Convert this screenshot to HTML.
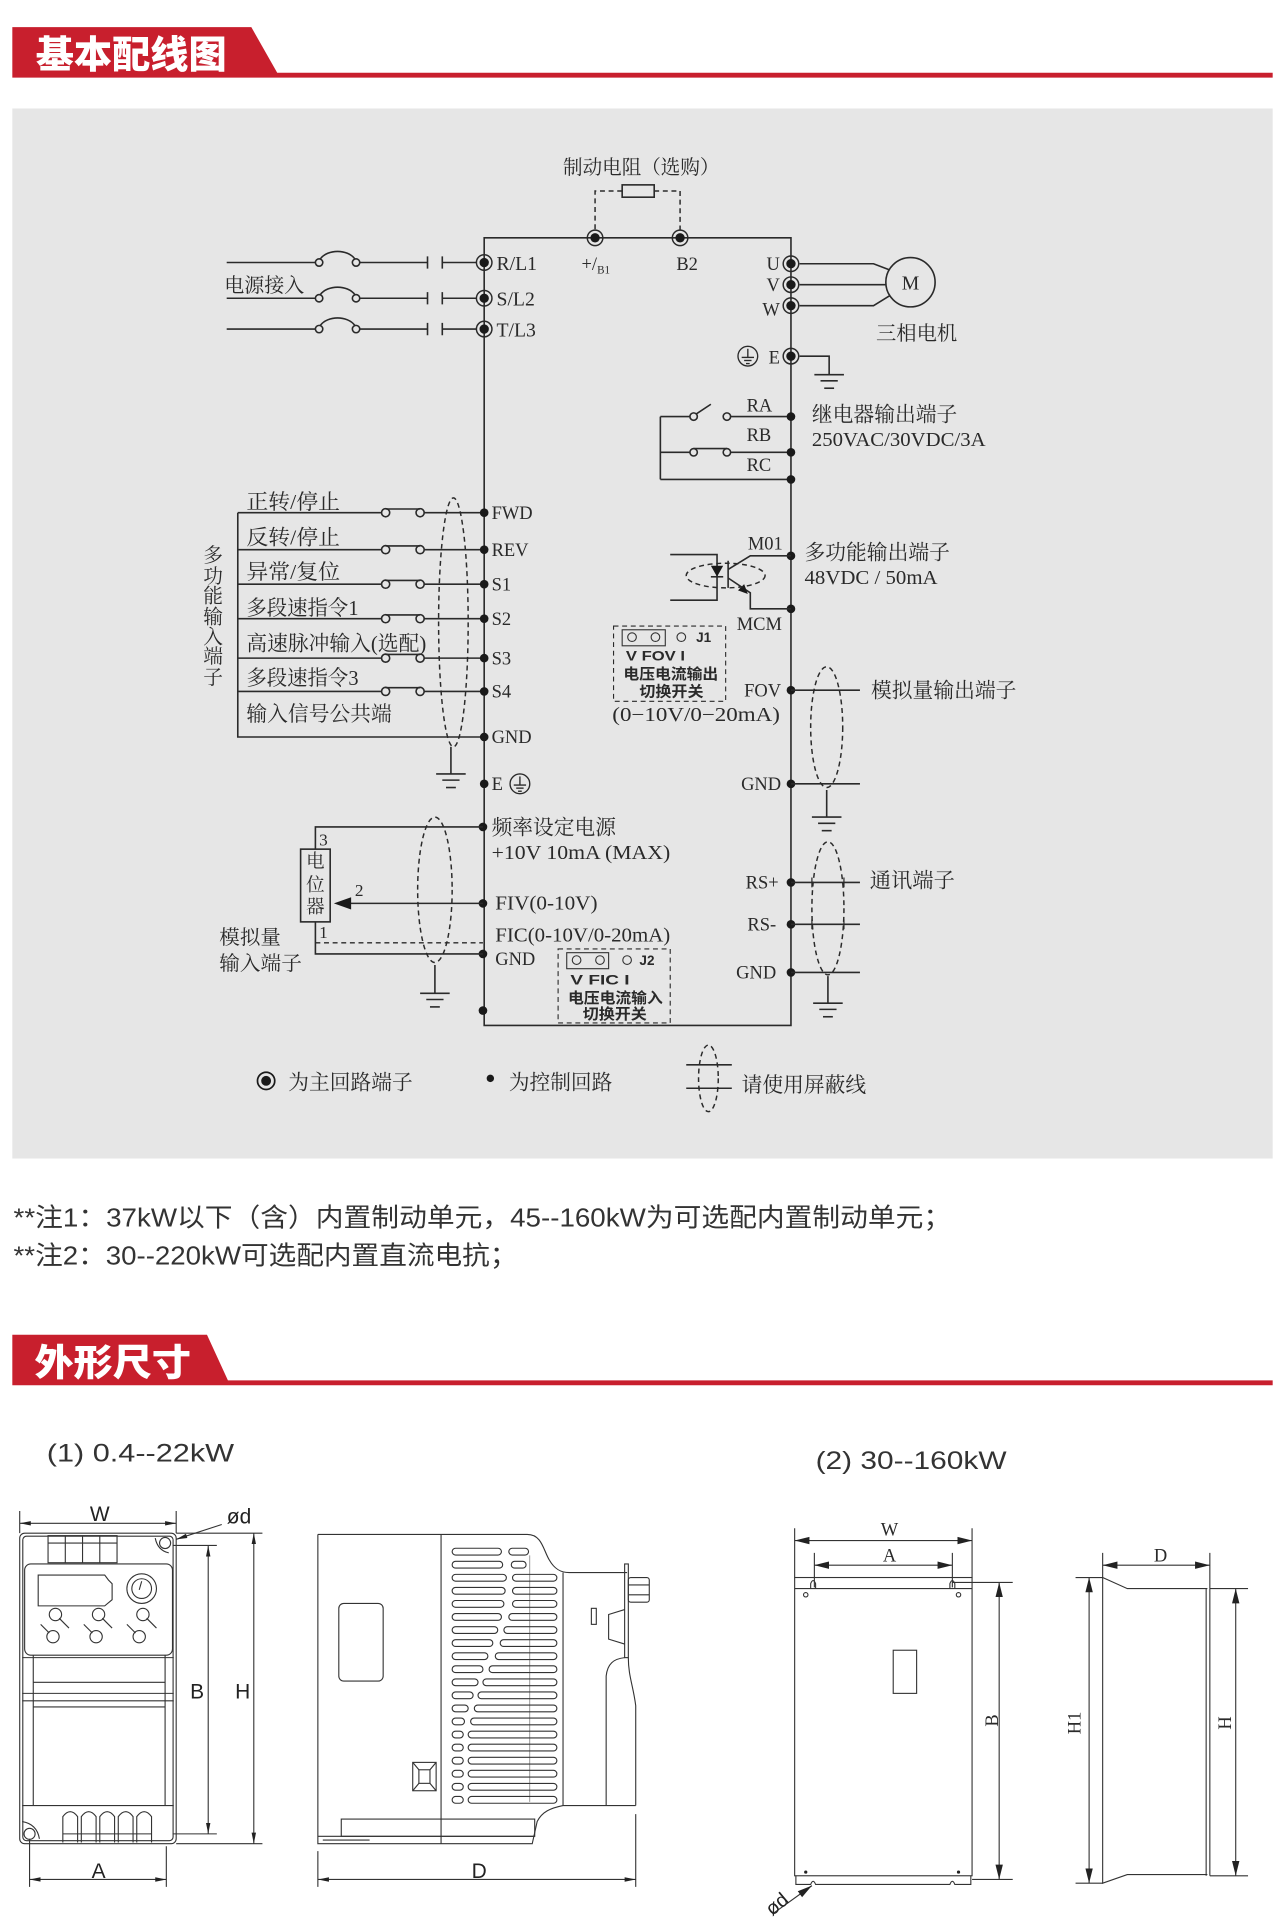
<!DOCTYPE html>
<html><head><meta charset="utf-8">
<style>
html,body{margin:0;padding:0;background:#fff;}
svg{display:block;}
.l{stroke:#2a2a2a;stroke-width:1.3;fill:none;}
.t{stroke:#333;stroke-width:0.9;fill:none;}
.d{stroke:#2a2a2a;stroke-width:1.2;fill:none;stroke-dasharray:4 3;}
.s{font-family:"Liberation Serif","Noto Serif CJK SC",serif;fill:#2a2a2a;}
.b{font-family:"Liberation Sans","Noto Sans CJK SC",sans-serif;font-weight:bold;fill:#2a2a2a;}
.n{font-family:"Liberation Sans","Noto Sans CJK SC",sans-serif;fill:#333;}
.h{font-family:"Liberation Sans","Noto Sans CJK SC",sans-serif;font-weight:900;fill:#fff;}
</style></head>
<body>
<svg width="1285" height="1930" viewBox="0 0 1043 1566" preserveAspectRatio="none" xmlns="http://www.w3.org/2000/svg">
<defs>
<marker id="ar" viewBox="0 0 10 10" refX="10" refY="5" markerWidth="9" markerHeight="9" orient="auto-start-reverse" markerUnits="userSpaceOnUse"><path d="M0,3 L10,5 L0,7z" fill="#222"/></marker>
<marker id="ar2" viewBox="0 0 10 10" refX="10" refY="5" markerWidth="12" markerHeight="12" orient="auto-start-reverse" markerUnits="userSpaceOnUse"><path d="M0,2.5 L10,5 L0,7.5z" fill="#222"/></marker>
<g id="mt"><circle cx="0" cy="0" r="6.3" fill="none" stroke="#2a2a2a" stroke-width="1.2"/><circle cx="0" cy="0" r="3.8" fill="#1a1a1a"/></g>
<g id="gnd"><line x1="-12" y1="0" x2="12" y2="0" stroke="#2a2a2a" stroke-width="1.3"/><line x1="-7" y1="5" x2="7" y2="5" stroke="#2a2a2a" stroke-width="1.3"/><line x1="-4" y1="11" x2="4" y2="11" stroke="#2a2a2a" stroke-width="1.3"/></g>
<g id="cg"><circle cx="0" cy="0" r="8" fill="none" stroke="#2a2a2a" stroke-width="1.1"/><line x1="0" y1="-6" x2="0" y2="1" stroke="#2a2a2a" stroke-width="1.1"/><line x1="-5" y1="1" x2="5" y2="1" stroke="#2a2a2a" stroke-width="1.1"/><line x1="-3" y1="3.5" x2="3" y2="3.5" stroke="#2a2a2a" stroke-width="1.1"/><line x1="-1.5" y1="6" x2="1.5" y2="6" stroke="#2a2a2a" stroke-width="1.1"/></g>
</defs>

<!-- Header 1 -->
<polygon points="10,22 204,22 225,59 1033,59 1033,63 10,63" fill="#c81f2d"/>
<text x="29" y="55" class="h" font-size="31" textLength="155" lengthAdjust="spacingAndGlyphs">基本配线图</text>

<!-- Gray panel -->
<rect x="10" y="88" width="1023" height="852" fill="#e6e6e6"/>

<!-- Main frame -->
<path class="l" d="M393,193 H642 V832 H393 Z"/>

<!-- Brake resistor -->
<text x="457" y="141" class="s" font-size="16" textLength="127" lengthAdjust="spacingAndGlyphs">制动电阻（选购）</text>
<rect x="505" y="150" width="26" height="10" class="l"/>
<path class="d" d="M505,155 H483 V187"/>
<path class="d" d="M531,155 H552 V187"/>
<use href="#mt" x="483" y="193"/>
<use href="#mt" x="552" y="193"/>
<text x="472" y="219" class="s" font-size="15">+/<tspan font-size="9" dy="3">B1</tspan></text>
<text x="549" y="219" class="s" font-size="15">B2</text>

<!-- Power input -->
<text x="182" y="237" class="s" font-size="16" textLength="65" lengthAdjust="spacingAndGlyphs">电源接入</text>
<g class="l">
<path d="M184,213 H256 M292,213 H347 M347,208 V218 M359,208 V218 M359,213 H387"/>
<circle cx="259" cy="213" r="3"/><circle cx="289" cy="213" r="3"/><path d="M260,210 C266,202 282,202 288,210"/>
<path d="M184,242 H256 M292,242 H347 M347,237 V247 M359,237 V247 M359,242 H387"/>
<circle cx="259" cy="242" r="3"/><circle cx="289" cy="242" r="3"/><path d="M260,239 C266,231 282,231 288,239"/>
<path d="M184,267 H256 M292,267 H347 M347,262 V272 M359,262 V272 M359,267 H387"/>
<circle cx="259" cy="267" r="3"/><circle cx="289" cy="267" r="3"/><path d="M260,264 C266,256 282,256 288,264"/>
</g>
<use href="#mt" x="393" y="213"/><use href="#mt" x="393" y="242"/><use href="#mt" x="393" y="267"/>
<text x="403" y="219" class="s" font-size="16">R/L1</text>
<text x="403" y="248" class="s" font-size="16">S/L2</text>
<text x="403" y="273" class="s" font-size="16">T/L3</text>

<!-- Motor -->
<use href="#mt" x="642" y="214"/><use href="#mt" x="642" y="231"/><use href="#mt" x="642" y="248"/>
<text x="633" y="219" class="s" font-size="15" text-anchor="end">U</text>
<text x="633" y="236" class="s" font-size="15" text-anchor="end">V</text>
<text x="633" y="256" class="s" font-size="15" text-anchor="end">W</text>
<path class="l" d="M649,214 H709 L722,219 M649,231 H719 M649,248 H709 L722,240"/>
<circle cx="739" cy="229" r="20" class="l"/>
<text x="739" y="235" class="s" font-size="16" text-anchor="middle">M</text>
<text x="711" y="276" class="s" font-size="16" textLength="66" lengthAdjust="spacingAndGlyphs">三相电机</text>

<!-- Earth right -->
<use href="#mt" x="642" y="289"/>
<use href="#cg" x="607" y="289"/>
<text x="633" y="295" class="s" font-size="15" text-anchor="end">E</text>
<path class="l" d="M649,289 H673 V304"/>
<use href="#gnd" x="673" y="304"/>

<!-- Relay -->
<g class="l">
<path d="M536,338 V389 M536,338 H560 M593,338 H642 M565,336 L577,328"/>
<circle cx="563" cy="338" r="3"/><circle cx="590" cy="338" r="3"/>
<path d="M536,367 H560 M593,367 H642 M563,364 H590"/>
<circle cx="563" cy="367" r="3"/><circle cx="590" cy="367" r="3"/>
<path d="M536,389 H642"/>
</g>
<circle cx="642" cy="338" r="3.5" fill="#1a1a1a"/><circle cx="642" cy="367" r="3.5" fill="#1a1a1a"/><circle cx="642" cy="389" r="3.5" fill="#1a1a1a"/>
<text x="606" y="334" class="s" font-size="15">RA</text>
<text x="606" y="358" class="s" font-size="15">RB</text>
<text x="606" y="382" class="s" font-size="15">RC</text>
<text x="659" y="342" class="s" font-size="17" textLength="118" lengthAdjust="spacingAndGlyphs">继电器输出端子</text>
<text x="659" y="362" class="s" font-size="16" textLength="141" lengthAdjust="spacingAndGlyphs">250VAC/30VDC/3A</text>

<!-- Multi-function output transistor -->
<circle cx="642" cy="451" r="3.5" fill="#1a1a1a"/><circle cx="642" cy="494" r="3.5" fill="#1a1a1a"/>
<text x="607" y="446" class="s" font-size="15">M01</text>
<text x="598" y="511" class="s" font-size="15">MCM</text>
<path class="l" d="M642,451 H609 L591,462 M591,455 V477 M591,469 L609,481 V494 H642"/>
<polygon points="607,482 599,479 604,474" fill="#1a1a1a"/>
<path class="l" d="M544,450 H582 V487 H544"/>
<polygon points="577,459 587,459 582,468" fill="#1a1a1a"/>
<path class="l" d="M577,468 H587"/>
<ellipse cx="589" cy="467" rx="32" ry="10" class="d"/>
<text x="653" y="454" class="s" font-size="17" textLength="118" lengthAdjust="spacingAndGlyphs">多功能输出端子</text>
<text x="653" y="474" class="s" font-size="16" textLength="108" lengthAdjust="spacingAndGlyphs">48VDC / 50mA</text>

<!-- J1 -->
<rect x="498" y="508" width="91" height="61" class="d" style="stroke-width:0.9"/>
<rect x="505" y="511" width="35" height="13" class="t"/>
<circle cx="513" cy="517" r="3.5" class="t"/><circle cx="532" cy="517" r="3.5" class="t"/><circle cx="553" cy="517" r="3.5" class="t"/>
<text x="565" y="521" class="b" font-size="11">J1</text>
<text x="508" y="536" class="b" font-size="11" textLength="48" lengthAdjust="spacingAndGlyphs">V  FOV  I</text>
<text x="506" y="551" class="b" font-size="12" textLength="77" lengthAdjust="spacingAndGlyphs">电压电流输出</text>
<text x="519" y="565" class="b" font-size="12" textLength="52" lengthAdjust="spacingAndGlyphs">切换开关</text>
<text x="497" y="585" class="s" font-size="16" textLength="136" lengthAdjust="spacingAndGlyphs">(0−10V/0−20mA)</text>

<!-- FOV & GND -->
<circle cx="642" cy="560" r="3.5" fill="#1a1a1a"/>
<text x="634" y="565" class="s" font-size="15" text-anchor="end">FOV</text>
<path class="l" d="M642,560 H698"/>
<ellipse cx="671" cy="590" rx="13" ry="49" class="d"/>
<text x="707" y="566" class="s" font-size="17" textLength="118" lengthAdjust="spacingAndGlyphs">模拟量输出端子</text>
<circle cx="642" cy="636" r="3.5" fill="#1a1a1a"/>
<text x="634" y="641" class="s" font-size="15" text-anchor="end">GND</text>
<path class="l" d="M642,636 H698 M671,641 V663"/>
<use href="#gnd" x="671" y="663"/>

<!-- RS -->
<circle cx="642" cy="716" r="3.5" fill="#1a1a1a"/><circle cx="642" cy="750" r="3.5" fill="#1a1a1a"/><circle cx="642" cy="789" r="3.5" fill="#1a1a1a"/>
<text x="632" y="721" class="s" font-size="15" text-anchor="end">RS+</text>
<text x="630" y="755" class="s" font-size="15" text-anchor="end">RS-</text>
<text x="630" y="794" class="s" font-size="15" text-anchor="end">GND</text>
<path class="l" d="M642,716 H698 M642,750 H698 M642,789 H698 M672,792 V814"/>
<path class="l" style="stroke-width:1" d="M659,712 V720 M685,712 V720 M659,746 V754 M685,746 V754"/>
<ellipse cx="672" cy="737" rx="13" ry="54" class="d"/>
<use href="#gnd" x="672" y="814"/>
<text x="706" y="720" class="s" font-size="17" textLength="69" lengthAdjust="spacingAndGlyphs">通讯端子</text>

<!-- Inputs -->
<g class="l">
<path d="M193,416 V598 H393"/>
<path d="M193,416 H310 M344,416 H393 M313,413 H341"/><circle cx="313" cy="416" r="3.3"/><circle cx="341" cy="416" r="3.3"/>
<path d="M193,446 H310 M344,446 H393 M313,443 H341"/><circle cx="313" cy="446" r="3.3"/><circle cx="341" cy="446" r="3.3"/>
<path d="M193,474 H310 M344,474 H393 M313,471 H341"/><circle cx="313" cy="474" r="3.3"/><circle cx="341" cy="474" r="3.3"/>
<path d="M193,502 H310 M344,502 H393 M313,499 H341"/><circle cx="313" cy="502" r="3.3"/><circle cx="341" cy="502" r="3.3"/>
<path d="M193,534 H310 M344,534 H393 M313,531 H341"/><circle cx="313" cy="534" r="3.3"/><circle cx="341" cy="534" r="3.3"/>
<path d="M193,561 H310 M344,561 H393 M313,558 H341"/><circle cx="313" cy="561" r="3.3"/><circle cx="341" cy="561" r="3.3"/>
</g>
<g fill="#1a1a1a"><circle cx="393" cy="416" r="3.5"/><circle cx="393" cy="446" r="3.5"/><circle cx="393" cy="474" r="3.5"/><circle cx="393" cy="502" r="3.5"/><circle cx="393" cy="534" r="3.5"/><circle cx="393" cy="561" r="3.5"/><circle cx="393" cy="598" r="3.5"/><circle cx="393" cy="636" r="3.5"/></g>
<g class="s" font-size="15">
<text x="399" y="421">FWD</text><text x="399" y="451">REV</text><text x="399" y="479">S1</text><text x="399" y="507">S2</text><text x="399" y="539">S3</text><text x="399" y="566">S4</text><text x="399" y="603">GND</text><text x="399" y="641">E</text>
</g>
<use href="#cg" x="422" y="636"/>
<g class="s" font-size="17">
<text x="200" y="413" textLength="76" lengthAdjust="spacingAndGlyphs">正转/停止</text>
<text x="200" y="442" textLength="76" lengthAdjust="spacingAndGlyphs">反转/停止</text>
<text x="200" y="470" textLength="76" lengthAdjust="spacingAndGlyphs">异常/复位</text>
<text x="200" y="499" textLength="91" lengthAdjust="spacingAndGlyphs">多段速指令1</text>
<text x="200" y="528" textLength="146" lengthAdjust="spacingAndGlyphs">高速脉冲输入(选配)</text>
<text x="200" y="556" textLength="91" lengthAdjust="spacingAndGlyphs">多段速指令3</text>
<text x="200" y="585" textLength="118" lengthAdjust="spacingAndGlyphs">输入信号公共端</text>
</g>
<g class="s" font-size="16" text-anchor="middle">
<text x="173" y="456">多</text><text x="173" y="473">功</text><text x="173" y="489">能</text><text x="173" y="506">输</text><text x="173" y="522">入</text><text x="173" y="538">端</text><text x="173" y="555">子</text>
</g>
<ellipse cx="368" cy="505" rx="12" ry="101" class="d"/>
<path class="l" d="M366,606 V628"/>
<use href="#gnd" x="366" y="628"/>

<!-- Analog inputs -->
<circle cx="392" cy="671" r="3.5" fill="#1a1a1a"/><circle cx="392" cy="733" r="3.5" fill="#1a1a1a"/><circle cx="392" cy="774" r="3.5" fill="#1a1a1a"/><circle cx="392" cy="820" r="3.5" fill="#1a1a1a"/>
<path class="l" d="M392,671 H256 V689 M256,748 V774 H392 M392,733 H280"/>
<polygon points="271,733 285,728 285,738" fill="#1a1a1a"/>
<path class="d" d="M256,765 H392"/>
<rect x="244" y="689" width="24" height="59" class="l"/>
<g class="s" font-size="15" text-anchor="middle"><text x="256" y="704">电</text><text x="256" y="723">位</text><text x="256" y="741">器</text></g>
<text x="259" y="686" class="s" font-size="14">3</text>
<text x="288" y="727" class="s" font-size="14">2</text>
<text x="259" y="761" class="s" font-size="14">1</text>
<text x="399" y="677" class="s" font-size="17" textLength="101" lengthAdjust="spacingAndGlyphs">频率设定电源</text>
<text x="399" y="697" class="s" font-size="16" textLength="145" lengthAdjust="spacingAndGlyphs">+10V  10mA (MAX)</text>
<text x="402" y="738" class="s" font-size="16" textLength="83" lengthAdjust="spacingAndGlyphs">FIV(0-10V)</text>
<text x="402" y="764" class="s" font-size="16" textLength="142" lengthAdjust="spacingAndGlyphs">FIC(0-10V/0-20mA)</text>
<text x="402" y="783" class="s" font-size="15">GND</text>
<text x="178" y="766" class="s" font-size="16" textLength="50" lengthAdjust="spacingAndGlyphs">模拟量</text>
<text x="178" y="787" class="s" font-size="16" textLength="67" lengthAdjust="spacingAndGlyphs">输入端子</text>
<ellipse cx="353" cy="722" rx="14" ry="59" class="d"/>
<path class="l" d="M353,783 V806"/>
<use href="#gnd" x="353" y="806"/>

<!-- J2 -->
<rect x="453" y="770" width="91" height="60" class="d" style="stroke-width:0.9"/>
<rect x="460" y="773" width="34" height="13" class="t"/>
<circle cx="468" cy="779" r="3.5" class="t"/><circle cx="487" cy="779" r="3.5" class="t"/><circle cx="509" cy="779" r="3.5" class="t"/>
<text x="519" y="783" class="b" font-size="11">J2</text>
<text x="463" y="799" class="b" font-size="11" textLength="48" lengthAdjust="spacingAndGlyphs">V  FIC   I</text>
<text x="461" y="814" class="b" font-size="12" textLength="77" lengthAdjust="spacingAndGlyphs">电压电流输入</text>
<text x="473" y="827" class="b" font-size="12" textLength="52" lengthAdjust="spacingAndGlyphs">切换开关</text>

<!-- Legend -->
<circle cx="216" cy="877" r="7" fill="none" stroke="#1a1a1a" stroke-width="1.4"/><circle cx="216" cy="877" r="4" fill="#1a1a1a"/>
<text x="234" y="884" class="s" font-size="17" textLength="101" lengthAdjust="spacingAndGlyphs">为主回路端子</text>
<circle cx="398" cy="875" r="3" fill="#1a1a1a"/>
<text x="413" y="884" class="s" font-size="17" textLength="84" lengthAdjust="spacingAndGlyphs">为控制回路</text>
<ellipse cx="575" cy="875" rx="8" ry="27" class="d"/>
<path class="l" d="M557,864 H594 M557,883 H594"/>
<text x="602" y="886" class="s" font-size="17" textLength="101" lengthAdjust="spacingAndGlyphs">请使用屏蔽线</text>

<!-- Notes -->
<text x="11" y="995" class="n" font-size="21" textLength="761" lengthAdjust="spacingAndGlyphs">**注1：37kW以下（含）内置制动单元，45--160kW为可选配内置制动单元；</text>
<text x="11" y="1026" class="n" font-size="21" textLength="409" lengthAdjust="spacingAndGlyphs">**注2：30--220kW可选配内置直流电抗；</text>

<!-- Header 2 -->
<polygon points="10,1083 168,1083 185,1120 1033,1120 1033,1124 10,1124" fill="#c81f2d"/>
<text x="28" y="1116" class="h" font-size="30" textLength="127" lengthAdjust="spacingAndGlyphs">外形尺寸</text>

<text x="38" y="1186" class="n" font-size="20" textLength="152" lengthAdjust="spacingAndGlyphs">(1) 0.4--22kW</text>
<text x="662" y="1192" class="n" font-size="20" textLength="155" lengthAdjust="spacingAndGlyphs">(2) 30--160kW</text>

<!-- Drawing 1 front -->
<g class="t">
<rect x="16" y="1244" width="127" height="252" rx="4"/>
<rect x="18.5" y="1246.5" width="122" height="247" rx="3"/>
<rect x="39" y="1246" width="56" height="22"/>
<path d="M53,1246 V1268 M67,1246 V1268 M81,1246 V1268 M39,1252 H95"/>
<rect x="20" y="1269" width="120" height="74" rx="5"/>
<path d="M31,1278 H85 L88,1282 L91,1285 V1298 L85,1303 H31 Z"/>
<circle cx="115" cy="1289" r="12"/><circle cx="115" cy="1289" r="8"/>
<path d="M115,1283 L113,1290"/>
<circle cx="45" cy="1310" r="5"/><path d="M48,1313 L56,1321"/>
<circle cx="80" cy="1310" r="5"/><path d="M83,1313 L91,1321"/>
<circle cx="116" cy="1310" r="5"/><path d="M119,1313 L127,1321"/>
<circle cx="43" cy="1328" r="5"/><path d="M40,1325 L33,1318"/>
<circle cx="78" cy="1328" r="5"/><path d="M75,1325 L68,1318"/>
<circle cx="113" cy="1328" r="5"/><path d="M110,1325 L103,1318"/>
<path d="M27,1343 V1465 M134,1343 V1465 M18,1345 H141 M27,1365 H134 M18,1374 H141 M18,1380 H141 M27,1385 H134 M18,1465 H141"/>
<path d="M51,1495 V1474 Q57,1466 63,1474 V1495 M66,1495 V1474 Q72,1466 78,1474 V1495 M81,1495 V1474 Q87,1466 93,1474 V1495 M96,1495 V1474 Q102,1466 108,1474 V1495 M111,1495 V1474 Q117,1466 123,1474 V1495"/>
<path d="M51,1488 H123"/>
<circle cx="134" cy="1252" r="4.5"/><path d="M126,1248 Q128,1258 137,1260"/>
<circle cx="24" cy="1488" r="4.5"/><path d="M18,1478 Q30,1480 32,1492"/>
<path d="M16,1226 V1244 M143,1226 V1244 M140,1254 H176 M140,1488 H176 M143,1244 H213 M143,1496 H213 M24,1492 V1531 M135,1498 V1531"/>
</g>
<path class="t" d="M16,1236 H143" marker-start="url(#ar)" marker-end="url(#ar)"/>
<path class="t" d="M169,1254 V1488" marker-start="url(#ar)" marker-end="url(#ar)"/>
<path class="t" d="M206,1244 V1496" marker-start="url(#ar)" marker-end="url(#ar)"/>
<path class="t" d="M24,1525 H135" marker-start="url(#ar)" marker-end="url(#ar)"/>
<path class="t" d="M180,1237 L143,1249" marker-end="url(#ar)"/>
<g class="n" font-size="17" text-anchor="middle" style="fill:#222">
<text x="81" y="1234">W</text><text x="160" y="1378">B</text><text x="197" y="1378">H</text><text x="80" y="1524">A</text><text x="194" y="1236">ød</text><text x="389" y="1524">D</text>
</g>

<!-- Drawing 1 side -->
<g class="t">
<path d="M258,1245 H428 C440,1245 441,1258 446,1266 C450,1273 455,1276 462,1276 H509"/>
<path d="M258,1245 V1496 H432 L436,1478 C440,1470 447,1467 457,1465 H516"/>
<path d="M358,1245 V1496 M457,1276 V1465"/>
<rect x="277" y="1476" width="157" height="14"/>
<path d="M258,1490 H434 M262,1493 H300"/>
<rect x="275" y="1301" width="36" height="63" rx="4"/>
<rect x="335" y="1430" width="19" height="23"/><rect x="340" y="1436" width="9" height="11"/>
<path d="M335,1430 L340,1436 M354,1430 L349,1436 M335,1453 L340,1447 M354,1453 L349,1447"/>
<rect x="507" y="1269" width="3" height="76"/>
<rect x="510" y="1280" width="17" height="20" rx="2"/>
<path d="M510,1286 H527 M510,1294 H527"/>
<path d="M507,1306 L494,1310 V1330 L507,1334"/>
<rect x="480" y="1305" width="4" height="13"/>
<path d="M507,1345 C498,1346 493,1350 492,1360 V1465 M510,1345 C510,1360 514,1368 516,1384 V1465"/>
<path d="M430,1262 V1462" style="stroke:#777;stroke-width:0.6"/>
<g>
<rect x="367" y="1256.25" width="40" height="5.5" rx="2.75"/><rect x="413" y="1256.25" width="16" height="5.5" rx="2.75"/>
<rect x="367" y="1266.85" width="41" height="5.5" rx="2.75"/><rect x="415" y="1266.85" width="12" height="5.5" rx="2.75"/>
<rect x="367" y="1277.45" width="44" height="5.5" rx="2.75"/><rect x="416" y="1277.45" width="36" height="5.5" rx="2.75"/>
<rect x="367" y="1288.05" width="43" height="5.5" rx="2.75"/><rect x="416" y="1288.05" width="36" height="5.5" rx="2.75"/>
<rect x="367" y="1298.65" width="42" height="5.5" rx="2.75"/><rect x="416" y="1298.65" width="36" height="5.5" rx="2.75"/>
<rect x="367" y="1309.25" width="40" height="5.5" rx="2.75"/><rect x="413" y="1309.25" width="39" height="5.5" rx="2.75"/>
<rect x="367" y="1319.85" width="37" height="5.5" rx="2.75"/><rect x="409" y="1319.85" width="43" height="5.5" rx="2.75"/>
<rect x="367" y="1330.45" width="33" height="5.5" rx="2.75"/><rect x="406" y="1330.45" width="46" height="5.5" rx="2.75"/>
<rect x="367" y="1341.05" width="29" height="5.5" rx="2.75"/><rect x="402" y="1341.05" width="50" height="5.5" rx="2.75"/>
<rect x="367" y="1351.65" width="25" height="5.5" rx="2.75"/><rect x="397" y="1351.65" width="55" height="5.5" rx="2.75"/>
<rect x="367" y="1362.25" width="21" height="5.5" rx="2.75"/><rect x="392" y="1362.25" width="60" height="5.5" rx="2.75"/>
<rect x="367" y="1372.85" width="17" height="5.5" rx="2.75"/><rect x="388" y="1372.85" width="64" height="5.5" rx="2.75"/>
<rect x="367" y="1383.45" width="13" height="5.5" rx="2.75"/><rect x="385" y="1383.45" width="67" height="5.5" rx="2.75"/>
<rect x="367" y="1394.05" width="10" height="5.5" rx="2.75"/><rect x="382" y="1394.05" width="70" height="5.5" rx="2.75"/>
<rect x="367" y="1404.65" width="9" height="5.5" rx="2.75"/><rect x="380" y="1404.65" width="72" height="5.5" rx="2.75"/>
<rect x="367" y="1415.25" width="9" height="5.5" rx="2.75"/><rect x="380" y="1415.25" width="72" height="5.5" rx="2.75"/>
<rect x="367" y="1425.85" width="9" height="5.5" rx="2.75"/><rect x="380" y="1425.85" width="72" height="5.5" rx="2.75"/>
<rect x="367" y="1436.45" width="9" height="5.5" rx="2.75"/><rect x="380" y="1436.45" width="72" height="5.5" rx="2.75"/>
<rect x="367" y="1447.05" width="9" height="5.5" rx="2.75"/><rect x="380" y="1447.05" width="72" height="5.5" rx="2.75"/>
<rect x="367" y="1457.65" width="9" height="5.5" rx="2.75"/><rect x="380" y="1457.65" width="72" height="5.5" rx="2.75"/>
</g>
<path d="M258,1502 V1531 M516,1472 V1531"/>
</g>
<path class="t" d="M258,1525 H516" marker-start="url(#ar)" marker-end="url(#ar)"/>

<!-- Drawing 2 front -->
<g class="t">
<rect x="645" y="1280" width="144" height="242"/>
<path d="M645,1289 H789"/>
<path d="M646,1522 V1529 H658 Q660,1524 662,1529 H771 Q773,1524 775,1529 H788 V1522"/>
<path d="M658,1289 V1285 Q660,1280 662,1285 V1289 M771,1289 V1285 Q773,1280 775,1285 V1289"/>
<circle cx="654" cy="1294" r="1.8"/><circle cx="778" cy="1294" r="1.8"/>
<rect x="725" y="1339" width="19" height="35"/>
<path d="M645,1240 V1280 M789,1240 V1280 M661,1260 V1288 M773,1260 V1288 M773,1284 H822 M789,1525 H822"/>
</g>
<circle cx="654" cy="1519" r="1.3" fill="#222"/><circle cx="778" cy="1519" r="1.3" fill="#222"/>
<path class="t" d="M645,1250 H789" marker-start="url(#ar2)" marker-end="url(#ar2)"/>
<path class="t" d="M661,1270 H773" marker-start="url(#ar2)" marker-end="url(#ar2)"/>
<path class="t" d="M811,1284 V1525" marker-start="url(#ar2)" marker-end="url(#ar2)"/>
<path class="t" d="M627,1553 L659,1530" marker-end="url(#ar2)"/>
<g class="s" font-size="15" text-anchor="middle">
<text x="722" y="1246">W</text><text x="722" y="1267">A</text>
<text transform="translate(810,1396) rotate(-90)">B</text>
<text transform="translate(877,1398) rotate(-90)">H1</text>
<text transform="translate(999,1398) rotate(-90)">H</text>
<text x="942" y="1267">D</text>
</g>
<text class="n" font-size="16" text-anchor="middle" transform="translate(634,1549) rotate(-40)" style="fill:#222">ød</text>

<!-- Drawing 2 side -->
<g class="t">
<path d="M895,1280 L915,1289 H980 M895,1280 V1528 L915,1521 H980 M979,1289 V1522 M982,1289 V1522"/>
<path d="M895,1260 V1280 M982,1260 V1289 M873,1280 H895 M873,1528 H895 M982,1289 H1013 M982,1522 H1013"/>
</g>
<path class="t" d="M895,1270 H982" marker-start="url(#ar2)" marker-end="url(#ar2)"/>
<path class="t" d="M884,1280 V1528" marker-start="url(#ar2)" marker-end="url(#ar2)"/>
<path class="t" d="M1003,1289 V1522" marker-start="url(#ar2)" marker-end="url(#ar2)"/>
</svg>
</body></html>
